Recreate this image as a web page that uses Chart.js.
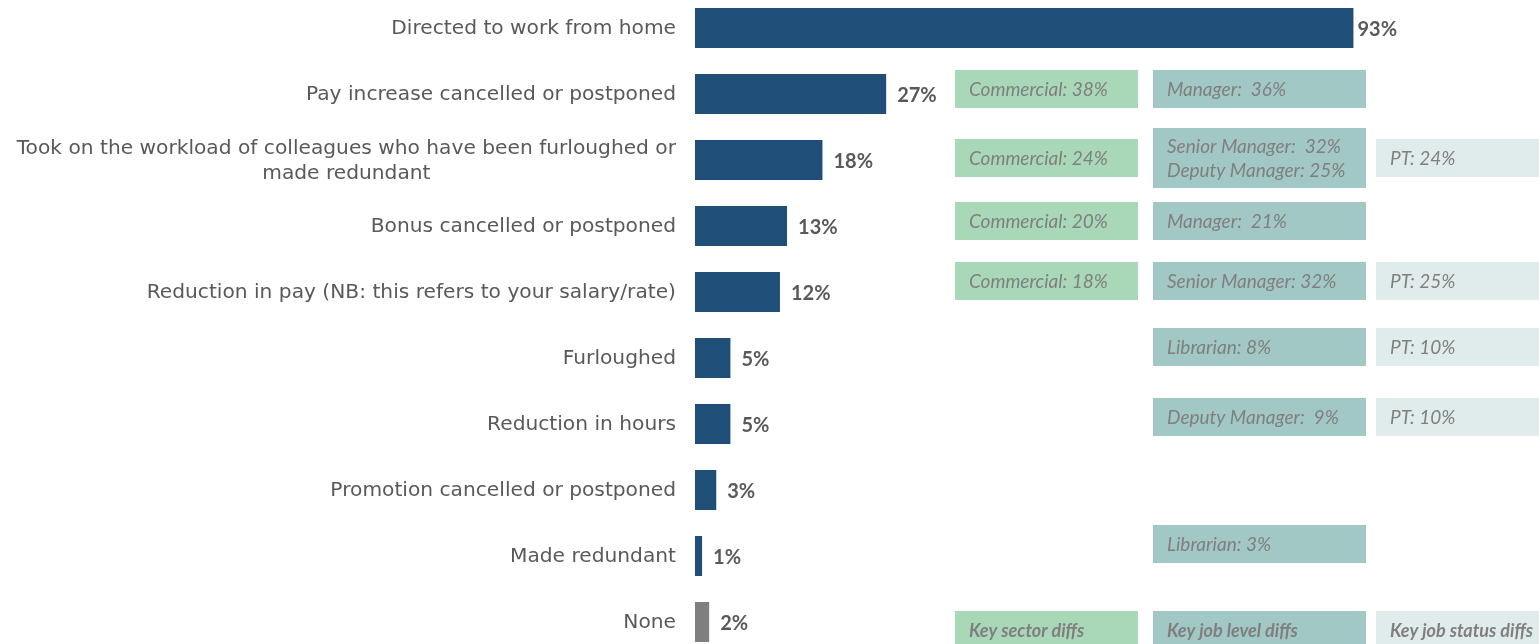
<!DOCTYPE html>
<html>
<head>
<meta charset="utf-8">
<script src="https://cdn.jsdelivr.net/npm/chart.js@4/dist/chart.umd.min.js"></script>
<style>
  html, body { margin: 0; padding: 0; background: #ffffff; overflow: hidden; }
  #wrap { position: absolute; left: 0; top: -5px; width: 1539px; height: 660px; }
</style>
</head>
<body>
<div id="wrap"><canvas id="chart"></canvas></div>
<script>
// Impacts experienced (share of respondents)
const categories = [
  'Directed to work from home',
  'Pay increase cancelled or postponed',
  ['Took on the workload of colleagues who have been furloughed or', 'made redundant'],
  'Bonus cancelled or postponed',
  'Reduction in pay (NB: this refers to your salary/rate)',
  'Furloughed',
  'Reduction in hours',
  'Promotion cancelled or postponed',
  'Made redundant',
  'None'
];
const shares = [93, 27, 18, 13, 12, 5, 5, 3, 1, 2];

// Key sub-group differences per row (row index -> lines of text)
const sectorDiffs = { 1: ['Commercial: 38%'], 2: ['Commercial: 24%'], 3: ['Commercial: 20%'], 4: ['Commercial: 18%'] };
const jobLevelDiffs = {
  1: ['Manager:  36%'],
  2: ['Senior Manager:  32%', 'Deputy Manager: 25%'],
  3: ['Manager:  21%'],
  4: ['Senior Manager: 32%'],
  5: ['Librarian: 8%'],
  6: ['Deputy Manager:  9%'],
  8: ['Librarian: 3%']
};
const jobStatusDiffs = { 2: ['PT: 24%'], 4: ['PT: 25%'], 5: ['PT: 10%'], 6: ['PT: 10%'] };
const keyTitles = ['Key sector diffs', 'Key job level diffs', 'Key job status diffs'];

const BAR_BLUE = '#1f4e79';
const BAR_GREY = '#7f7f7f';
const TEXT_GREY = '#595959';
const BOX_TEXT = '#7f7f7f';

const columns = [
  { x: 955, w: 183, fill: '#a8d8b8', data: sectorDiffs },
  { x: 1153, w: 213, fill: '#a2c8c6', data: jobLevelDiffs },
  { x: 1376, w: 163, fill: '#e0ecec', data: jobStatusDiffs }
];
// small vertical nudges of the side boxes relative to each row centre
const rowNudge = [0, -5, -2, -5, -11, -11, -7, 0, -12, 0];

const categoryLabels = {
  id: 'categoryLabels',
  afterDraw(chart) {
    const ctx = chart.ctx;
    const y = chart.scales.y;
    ctx.save();
    ctx.font = '20.2px "DejaVu Sans", sans-serif';
    ctx.fillStyle = TEXT_GREY;
    ctx.textBaseline = 'middle';
    const right = 676;
    categories.forEach((lab, i) => {
      const cy = y.getPixelForValue(i) + 1;
      if (Array.isArray(lab)) {
        const widths = lab.map(t => ctx.measureText(t).width);
        const maxW = Math.max(...widths);
        const centre = right - maxW / 2;
        ctx.textAlign = 'center';
        const lh = 25;
        lab.forEach((t, k) => {
          ctx.fillText(t, centre, cy + (k - (lab.length - 1) / 2) * lh);
        });
      } else {
        ctx.textAlign = 'right';
        ctx.fillText(lab, right, cy);
      }
    });
    ctx.restore();
  }
};

const valueLabels = {
  id: 'valueLabels',
  afterDatasetsDraw(chart) {
    const ctx = chart.ctx;
    const meta = chart.getDatasetMeta(0);
    ctx.save();
    ctx.font = 'bold 20px Lato, "DejaVu Sans", sans-serif';
    ctx.fillStyle = TEXT_GREY;
    ctx.textAlign = 'left';
    ctx.textBaseline = 'middle';
    meta.data.forEach((bar, i) => {
      const gap = i === 0 ? 4 : 11;
      ctx.fillText(shares[i] + '%', bar.x + gap, bar.y + 2);
    });
    ctx.restore();
  }
};

const diffBoxes = {
  id: 'diffBoxes',
  afterDraw(chart) {
    const ctx = chart.ctx;
    const y = chart.scales.y;
    ctx.save();
    ctx.textBaseline = 'middle';
    ctx.textAlign = 'left';
    columns.forEach(col => {
      Object.keys(col.data).forEach(k => {
        const i = +k;
        const lines = col.data[k];
        const cy = y.getPixelForValue(i) + rowNudge[i];
        const h = lines.length > 1 ? 60 : 38;
        ctx.fillStyle = col.fill;
        ctx.fillRect(col.x, cy - h / 2, col.w, h);
        ctx.fillStyle = BOX_TEXT;
        ctx.font = 'italic 19px Lato, "DejaVu Sans", sans-serif';
        lines.forEach((t, n) => {
          ctx.fillText(t, col.x + 14, cy + 1 + (n - (lines.length - 1) / 2) * 24);
        });
      });
    });
    // key row along the bottom
    const last = categories.length - 1;
    const top = y.getPixelForValue(last) - 11;
    columns.forEach((col, c) => {
      ctx.fillStyle = col.fill;
      ctx.fillRect(col.x, top, col.w, 50);
      ctx.fillStyle = BOX_TEXT;
      ctx.font = 'italic bold 18px Lato, "DejaVu Sans", sans-serif';
      ctx.fillText(keyTitles[c], col.x + 14, top + 20);
    });
    ctx.restore();
  }
};

new Chart(document.getElementById('chart'), {
  type: 'bar',
  data: {
    labels: categories,
    datasets: [{
      data: shares,
      backgroundColor: shares.map((v, i) => i === shares.length - 1 ? BAR_GREY : BAR_BLUE),
      borderWidth: 0,
      barPercentage: 0.606,
      categoryPercentage: 1
    }]
  },
  options: {
    indexAxis: 'y',
    responsive: true,
    maintainAspectRatio: false,
    animation: false,
    layout: { padding: { left: 0, right: 136, top: 0, bottom: 0 } },
    plugins: { legend: { display: false }, tooltip: { enabled: false } },
    scales: {
      x: { display: false, min: 0, max: 100, grid: { display: false } },
      y: {
        display: true,
        grid: { display: false, drawTicks: false },
        border: { display: false },
        ticks: { display: false },
        afterFit(scale) { scale.width = 695; }
      }
    }
  },
  plugins: [categoryLabels, valueLabels, diffBoxes]
});
</script>
</body>
</html>
